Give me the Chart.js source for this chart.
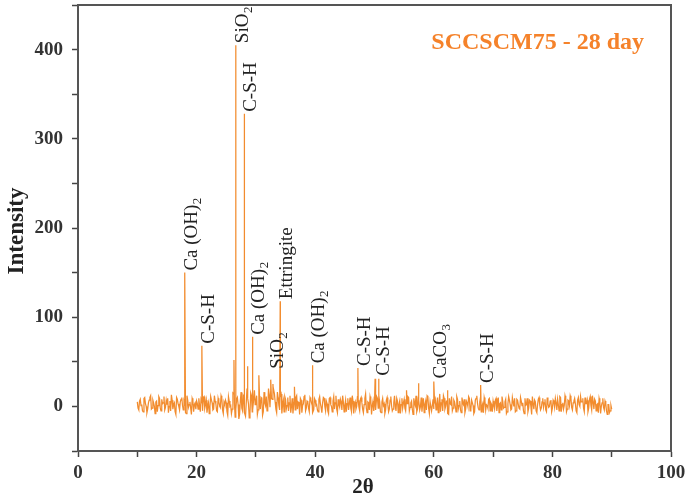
<!DOCTYPE html>
<html><head><meta charset="utf-8">
<script src="https://cdn.jsdelivr.net/npm/chart.js@4/dist/chart.umd.min.js"></script>
<style>html,body{margin:0;padding:0;background:#fff}#wrap{width:687px;height:498px}</style>
</head><body><div id="wrap"><canvas id="c" width="687" height="498"></canvas></div>
<script>
// baseline A: 2θ from 10 to 90, step 0.25
const baseStart = 10;
const baseStep = 0.25;
const baseline = [
 5,-4,8,2,-6,10,0,-3,7,12,-2,4,-8,6,1,9,-5,3,11,-1,
 2,-7,6,13,-3,4,-9,8,0,5,10,-4,3,-8,7,2,-2,9,-6,4,
 6,-3,1,8,-5,11,2,-7,4,0,7,-4,12,3,-6,5,-1,9,-8,2,
 4,-10,6,1,-3,14,-12,8,2,-9,16,-5,10,-11,20,3,-8,12,-4,18,
 6,-9,15,-3,9,-6,4,11,-2,13,18,8,22,5,-7,10,-4,14,2,-6,
 8,1,-5,12,0,-8,6,10,-3,4,9,-7,3,13,-2,5,-6,8,1,-4,
 7,2,-6,11,-1,4,9,-5,3,-8,10,0,6,-3,12,-7,2,8,-4,5,
 1,-6,9,3,-2,12,-8,5,0,7,-5,10,-3,2,14,-7,4,11,-9,6,
 3,-4,9,12,-6,5,1,-8,7,2,-3,11,-5,4,0,9,-7,6,2,-2,
 8,-5,3,10,-1,6,-9,4,12,-3,7,0,-6,9,2,-4,11,-8,5,1,
 -3,8,2,-7,14,4,-5,9,0,6,-9,3,11,-2,5,-6,8,1,-4,10,
 2,-7,6,0,9,-3,4,-8,7,12,-2,5,-6,3,10,-4,1,8,-5,2,
 6,-3,9,1,-7,4,11,-2,5,-8,3,7,-4,10,0,-6,8,2,-3,6,
 4,-8,1,9,-2,6,-9,3,7,-5,2,10,-4,5,-1,8,-6,3,0,7,
 -2,5,9,-4,2,11,-6,4,1,8,-3,6,12,-1,4,9,-5,7,2,11,
 5,-2,10,3,-6,8,1,12,-3,6,2,-7,5,0,9,-4,3,-9,2,-5,
 -3
];
// baseline B: midpoints, 2θ from 10.125, step 0.25
const baseStartB = 10.125;
const baselineB = [
 -2,6,1,-5,9,3,-7,4,10,-3,7,0,5,-6,11,-2,8,4,-4,7,
 9,0,-5,7,2,-6,10,3,-4,8,1,6,-7,12,-1,5,-9,6,2,-3,
 3,9,-6,5,10,-2,7,0,-8,11,4,-3,6,-5,9,1,12,-4,5,7,
 -6,11,0,-8,15,4,-3,10,-14,6,-2,12,-7,4,9,-13,15,-6,8,2,
 12,-4,7,10,-10,16,1,-5,20,-1,9,25,14,-3,16,1,12,-8,7,11,
 -3,10,4,-7,9,2,-4,12,5,-9,7,1,11,-5,6,-2,10,4,-7,9,
 1,-4,8,3,-7,10,0,6,-5,9,2,-6,11,4,-3,8,-1,5,12,-6,
 7,3,-4,10,-6,6,2,-3,11,-1,8,4,-7,9,-2,5,-4,7,1,-5,
 8,11,-2,5,-7,9,3,-4,10,-6,7,1,-3,12,-5,6,2,-8,9,4,
 -2,7,11,-5,4,-3,9,1,-6,8,-4,10,3,-7,6,12,-2,5,-5,8,
 5,-4,10,1,-6,8,12,-3,6,-8,9,2,-5,7,0,11,-3,6,-7,4,
 8,-3,4,11,-5,7,1,-6,9,3,-4,10,0,-7,6,2,-2,9,4,-6,
 1,7,-5,10,3,-4,6,-1,8,-6,11,2,-3,5,9,-5,7,-2,10,1,
 -5,9,2,-6,7,0,11,-3,5,-7,8,1,-2,9,4,-4,10,-1,6,-6,
 7,-1,4,8,-5,10,2,-3,12,-6,7,1,9,-4,6,3,-7,10,0,5,
 9,-6,3,7,-2,11,-4,5,8,-5,3,9,-8,4,-1,6,-5,2,-7,1
];
// peaks
const peakX = [18.0, 20.9, 26.3, 26.6, 28.0, 28.6, 29.4, 30.5, 32.5, 32.9, 34.1, 36.5, 39.5, 47.2, 50.1, 50.7, 55.4, 57.4, 60.0, 62.3, 67.9];
const peakY = [150, 68, 52, 405, 328, 45, 78, 35, 30, 22, 118, 22, 46, 43, 31, 31, 18, 26, 28, 18, 24];

// phase labels
const labelX = [18.0, 20.9, 26.6, 28.0, 29.4, 32.5, 34.1, 39.5, 47.2, 50.5, 60.0, 67.9];
const labelY = [150, 68, 405, 328, 78, 40, 118, 46, 43, 32, 29, 24];
const labelText = ["Ca (OH)", "C-S-H", "SiO", "C-S-H", "Ca (OH)", "SiO", "Ettringite", "Ca (OH)", "C-S-H", "C-S-H", "CaCO", "C-S-H"];
const labelSub = ["2", "", "2", "", "2", "2", "", "2", "", "", "3", ""];

const xTicks = [0, 20, 40, 60, 80, 100];
const yTicks = [0, 100, 200, 300, 400];

const pts = [];
baseline.forEach((v, i) => pts.push({x: baseStart + i * baseStep, y: v}));
baselineB.forEach((v, i) => pts.push({x: baseStartB + i * baseStep, y: v}));
peakX.forEach((x, i) => pts.push({x: x, y: peakY[i]}));
pts.sort((a, b) => a.x - b.x);

const serif = "'Liberation Serif', 'DejaVu Serif', serif";
const orange = '#F28C2E';

const deco = {
  id: 'deco',
  afterDraw(chart) {
    const ctx = chart.ctx, a = chart.chartArea;
    const xs = chart.scales.x, ys = chart.scales.y;
    ctx.save();
    ctx.strokeStyle = '#555';
    ctx.lineWidth = 2;
    ctx.strokeRect(a.left, a.top, a.right - a.left, a.bottom - a.top);
    ctx.fillStyle = '#222';
    labelText.forEach((t, i) => {
      const px = xs.getPixelForValue(labelX[i]) + 12;
      const py = ys.getPixelForValue(labelY[i]) - 2;
      ctx.save();
      ctx.translate(px, py);
      ctx.rotate(-Math.PI / 2);
      ctx.textAlign = 'left';
      ctx.textBaseline = 'alphabetic';
      ctx.font = '19px ' + serif;
      ctx.fillText(t, 0, 0);
      if (labelSub[i]) {
        const w = ctx.measureText(t).width;
        ctx.font = '13px ' + serif;
        ctx.fillText(labelSub[i], w + 0.5, 4);
      }
      ctx.restore();
    });
    ctx.fillStyle = '#F5822A';
    ctx.font = 'bold 24px ' + serif;
    ctx.textAlign = 'right';
    ctx.textBaseline = 'middle';
    ctx.fillText('SCCSCM75 - 28 day', 644, 43);
    ctx.fillStyle = '#222';
    ctx.font = 'bold 21px ' + serif;
    ctx.textAlign = 'center';
    ctx.fillText('2θ', 363, 488);
    ctx.save();
    ctx.translate(17, 231);
    ctx.rotate(-Math.PI / 2);
    ctx.font = 'bold 23px ' + serif;
    ctx.fillText('Intensity', 0, 0);
    ctx.restore();
    ctx.restore();
  }
};

new Chart(document.getElementById('c'), {
  type: 'line',
  data: { datasets: [{ data: pts, borderColor: orange, borderWidth: 1.25, pointRadius: 0, tension: 0, fill: false }] },
  options: {
    responsive: false, animation: false, devicePixelRatio: 1,
    layout: { padding: { left: 0, right: 16, top: 5, bottom: 0 } },
    plugins: { legend: { display: false }, tooltip: { enabled: false } },
    scales: {
      x: {
        type: 'linear', min: 0, max: 100,
        afterFit(s) { s.height = 47; s.paddingLeft = 0; s.paddingRight = 0; },
        afterBuildTicks(s) { const t = []; for (let v = 0; v <= 100; v += 10) t.push({value: v}); s.ticks = t; },
        ticks: { autoSkip: false, maxRotation: 0, padding: 5, color: '#333',
          font: { family: serif, size: 19, weight: 'bold' },
          callback: v => xTicks.includes(v) ? String(v) : '' },
        grid: { drawOnChartArea: false, tickLength: 6, color: '#444', tickWidth: 1.5 },
        border: { color: '#555', width: 2 }
      },
      y: {
        type: 'linear', min: -50, max: 450,
        afterFit(s) { s.width = 78; s.paddingTop = 0; s.paddingBottom = 0; },
        afterBuildTicks(s) { const t = []; for (let v = -50; v <= 450; v += 50) t.push({value: v}); s.ticks = t; },
        ticks: { autoSkip: false, padding: 9, color: '#333',
          font: { family: serif, size: 19, weight: 'bold' },
          callback: v => yTicks.includes(v) ? String(v) : '' },
        grid: { drawOnChartArea: false, tickLength: 6, color: '#444', tickWidth: 1.5 },
        border: { color: '#555', width: 2 }
      }
    }
  },
  plugins: [deco]
});
</script></body></html>
